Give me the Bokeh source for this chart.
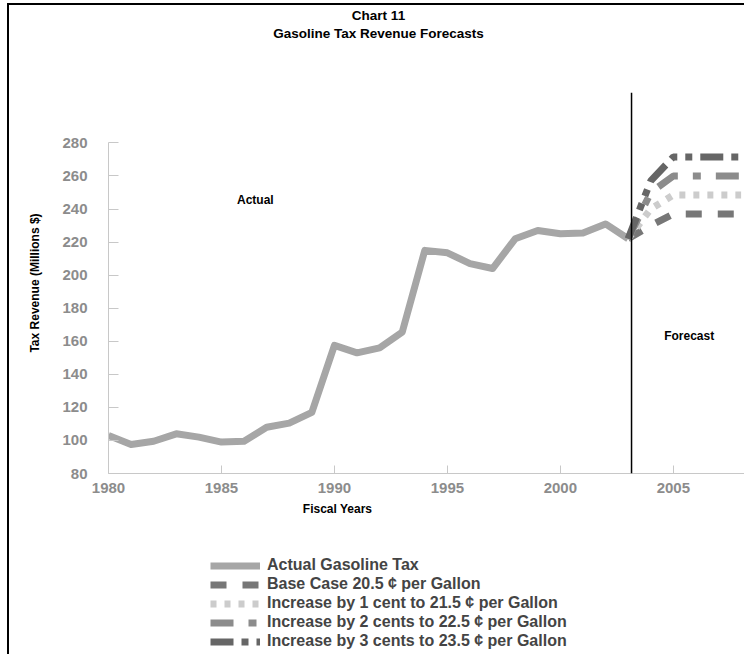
from bokeh.plotting import figure
from bokeh.layouts import column
from bokeh.models import Range1d, FixedTicker, Span, Label, Legend, LegendItem
from bokeh.embed import file_html
from bokeh.resources import INLINE

# ---- data ----
actual_years = list(range(1980, 2004))
actual_values = [103, 97.5, 99.5, 104, 102, 99, 99.5, 108, 110.5, 117,
                 157.5, 153, 156, 165.5, 215, 213.5, 207, 204, 222, 227,
                 225, 225.5, 231, 222]
forecast_years = [2003, 2004, 2005, 2006, 2007, 2008]
base_case = [222, 230, 237, 237, 237, 237]
plus_1_cent = [222, 240, 248.5, 248.5, 248.5, 248.5]
plus_2_cents = [222, 250, 260, 260, 260, 260]
plus_3_cents = [222, 257, 271.5, 271.5, 271.5, 271.5]
y_ticks = [80, 100, 120, 140, 160, 180, 200, 220, 240, 260, 280]
x_ticks = [1980, 1985, 1990, 1995, 2000, 2005]
forecast_start = 2003.15

FONT = "Liberation Sans"
W = 735
LEFT = 99                      # main plot's left border; strip frames align to it
TOP_H, MAIN_H, BOT_H = 87, 411, 151
STRIP_W = W - LEFT

series = [
    ("Actual Gasoline Tax", actual_years, actual_values, "#a6a6a6", None),
    ("Base Case 20.5 ¢ per Gallon", forecast_years, base_case, "#777777", "16 16"),
    ("Increase by 1 cent to 21.5 ¢ per Gallon", forecast_years, plus_1_cent, "#cccccc", "6 8"),
    ("Increase by 2 cents to 22.5 ¢ per Gallon", forecast_years, plus_2_cents, "#8c8c8c", "23 15 8 15"),
    ("Increase by 3 cents to 23.5 ¢ per Gallon", forecast_years, plus_3_cents, "#666666", "23 8 7 8 7 8"),
]


def blank(h, y0=0):
    f = figure(width=W, height=h, output_backend="svg", toolbar_location=None,
               x_range=Range1d(0, STRIP_W), y_range=Range1d(y0, y0 + h),
               x_axis_type=None, y_axis_type=None,
               min_border=0, min_border_left=LEFT, min_border_right=0,
               min_border_top=0, min_border_bottom=0)
    f.outline_line_color = None
    return f


def label(fig, x, y, s, size="12px"):
    fig.add_layout(Label(x=x, y=y, text=s,
                         text_font=FONT, text_font_style="bold",
                         text_font_size=size, text_color="black",
                         text_align="center", text_baseline="middle"))

# ---- title strip ----
p_top = blank(TOP_H)
label(p_top, 270, TOP_H - 10, "Chart 11", "13.5px")
label(p_top, 270, TOP_H - 28, "Gasoline Tax Revenue Forecasts", "13.5px")

# ---- main chart ----
p = figure(width=W, height=MAIN_H, output_backend="svg", toolbar_location=None,
           x_range=Range1d(1980, 2008.15), y_range=Range1d(80, 310.5),
           min_border_left=LEFT, min_border_right=0, min_border_top=0,
           min_border_bottom=30)
p.outline_line_color = None
p.xgrid.visible = False
p.ygrid.visible = False

for ax in (p.xaxis[0], p.yaxis[0]):
    ax.axis_line_color = "#c8c8c8"
    ax.major_tick_line_color = "#c8c8c8"
    ax.minor_tick_line_color = None
    ax.major_tick_out = 0
    ax.major_label_text_font = FONT
    ax.major_label_text_font_style = "bold"
    ax.major_label_text_font_size = "15px"
    ax.major_label_text_color = "#8c8c8c"
p.xaxis.ticker = FixedTicker(ticks=x_ticks)
p.xaxis.major_tick_in = 8
p.xaxis.major_label_standoff = 9
p.yaxis.ticker = FixedTicker(ticks=y_ticks)
p.yaxis.bounds = (80, 280)
p.yaxis.major_tick_in = 10
p.yaxis.major_label_standoff = 21
p.yaxis.axis_label = "Tax Revenue (Millions $)"
p.yaxis.axis_label_text_font = FONT
p.yaxis.axis_label_text_font_style = "bold"
p.yaxis.axis_label_text_font_size = "12px"
p.yaxis.axis_label_text_color = "black"
p.yaxis.axis_label_standoff = 17

for name, xs, ys, color, dash in series:
    kw = dict(line_color=color, line_width=7)
    if dash:
        kw["line_dash"] = dash
    else:
        kw["line_join"] = "round"
    p.line(xs, ys, **kw)

p.add_layout(Span(location=forecast_start, dimension="height",
                  line_color="black", line_width=1.5))
label(p, 1986.5, 245.5, "Actual")
label(p, 2005.7, 163, "Forecast")

# ---- legend strip (y range lies entirely below zero, so the series lines stay hidden) ----
p_bot = blank(BOT_H, y0=-BOT_H)
label(p_bot, 229, -5, "Fiscal Years")
items = []
for name, xs, ys, color, dash in series:
    kw = dict(line_color=color, line_width=7)
    if dash:
        kw["line_dash"] = dash
    r = p_bot.line(xs, ys, **kw)  # outside this strip's ranges; used for legend glyphs
    items.append(LegendItem(label=name, renderers=[r]))
legend = Legend(items=items, location=(102, 3.5), glyph_width=50, glyph_height=19,
                label_height=19, spacing=0, padding=0, margin=0, label_standoff=7,
                label_text_font=FONT, label_text_font_style="bold",
                label_text_font_size="16px", border_line_color=None,
                background_fill_alpha=0)
p_bot.add_layout(legend)

layout = column(p_top, p, p_bot, spacing=0)
layout.styles = {"margin-left": "7px", "margin-top": "3px",
                 "border-left": "2px solid black", "border-top": "2px solid black"}

open("out.html", "w").write(file_html(layout, INLINE))
